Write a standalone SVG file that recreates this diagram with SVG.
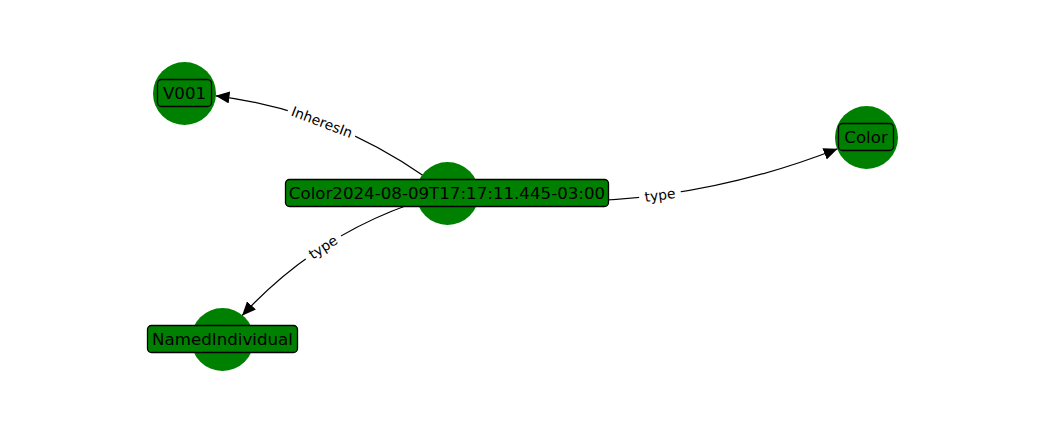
<svg xmlns="http://www.w3.org/2000/svg" width="1050" height="432" viewBox="0 0 1050 432">
<style>
.edge{fill:none;stroke:#000;stroke-width:1.2}
.circ{fill:#008000}
.box{fill:#008000;stroke:#000;stroke-width:1.3}
.nl{font-family:"DejaVu Sans",sans-serif;font-size:16.67px;fill:#000;text-anchor:middle;dominant-baseline:central}
.el{font-family:"DejaVu Sans",sans-serif;font-size:13.89px;fill:#000;text-anchor:middle;dominant-baseline:central}
.lb{fill:#fff}
</style>
<defs>
<marker id="arr" markerWidth="16" markerHeight="13" refX="14" refY="6" orient="auto" markerUnits="userSpaceOnUse">
<path d="M0,0 L14,6 L0,12 Z" fill="#000"/>
</marker>
</defs>
<rect width="1050" height="432" fill="#fff"/>
<g id="edges">
<path class="edge" d="M447,193 Q341.5,111.1 215.5,95.8" marker-end="url(#arr)"/>
<path class="edge" d="M447,193 Q648.3,222.8 837.6,148.7" marker-end="url(#arr)"/>
<path class="edge" d="M447,193 Q326.3,224.2 242,315.7" marker-end="url(#arr)"/>
<g transform="translate(322,122) rotate(20.8)">
<rect class="lb" x="-36" y="-10" width="72" height="20" rx="4"/>
<text class="el" x="0" y="0">InheresIn</text>
</g>
<g transform="translate(660,195) rotate(-7.6)">
<rect class="lb" x="-21" y="-10" width="42" height="20" rx="4"/>
<text class="el" x="0" y="0">type</text>
</g>
<g transform="translate(323,247) rotate(-33)">
<rect class="lb" x="-21" y="-10" width="42" height="20" rx="4"/>
<text class="el" x="0" y="0">type</text>
</g>
</g>
<g id="node-V001">
<circle class="circ" cx="184.5" cy="93.5" r="31.5"/>
<rect class="box" x="157.5" y="79.5" width="54" height="27" rx="4"/>
<text class="nl" x="184.5" y="93">V001</text>
</g>
<g id="node-Color">
<circle class="circ" cx="866.5" cy="137.5" r="31.5"/>
<rect class="box" x="838.5" y="123.5" width="55" height="27" rx="4"/>
<text class="nl" x="866" y="137">Color</text>
</g>
<g id="node-center">
<circle class="circ" cx="447.5" cy="193.5" r="31.5"/>
<rect class="box" x="285.5" y="179.5" width="323" height="27" rx="4"/>
<text class="nl" x="447" y="193">Color2024-08-09T17:17:11.445-03:00</text>
</g>
<g id="node-NamedIndividual">
<circle class="circ" cx="222.5" cy="339.5" r="31.5"/>
<rect class="box" x="147.5" y="325.5" width="150" height="27" rx="4"/>
<text class="nl" x="222.5" y="339">NamedIndividual</text>
</g>
</svg>
